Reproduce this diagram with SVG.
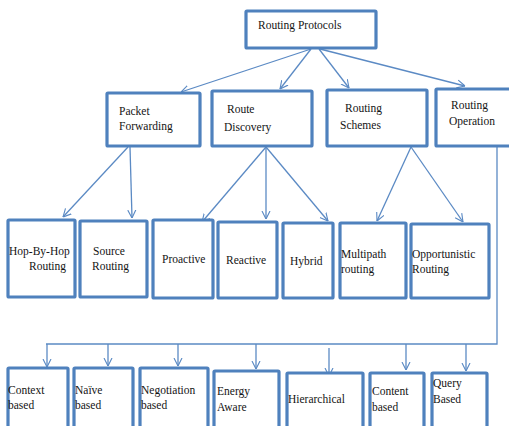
<svg xmlns="http://www.w3.org/2000/svg" width="509" height="426" viewBox="0 0 509 426">
<style>
.box{fill:#fff;stroke:#4f81bd;stroke-width:3.2}
.t{font-family:"Liberation Serif","Times New Roman",serif;font-size:11.5px;fill:#141414}
.c{fill:none;stroke:#5b8ac4;stroke-width:1.3}
</style>
<defs>
<marker id="ah" viewBox="0 0 10 10" refX="10" refY="5" markerWidth="8" markerHeight="11" markerUnits="userSpaceOnUse" orient="auto">
<path d="M0,0 L10,5 L0,10" fill="none" stroke="#5b8ac4" stroke-width="1.4"/>
</marker>
</defs>
<rect width="509" height="426" fill="#fff"/>
<g id="connectors">
<line class="c" x1="311" y1="49" x2="181" y2="92" marker-end="url(#ah)"/>
<line class="c" x1="311" y1="49" x2="280" y2="89" marker-end="url(#ah)"/>
<line class="c" x1="319" y1="49" x2="349" y2="88" marker-end="url(#ah)"/>
<line class="c" x1="320" y1="49" x2="465" y2="86" marker-end="url(#ah)"/>
<line class="c" x1="128" y1="147" x2="63" y2="217" marker-end="url(#ah)"/>
<line class="c" x1="130" y1="147" x2="132" y2="218" marker-end="url(#ah)"/>
<line class="c" x1="266" y1="147" x2="202" y2="222" marker-end="url(#ah)"/>
<line class="c" x1="266" y1="147" x2="266" y2="219" marker-end="url(#ah)"/>
<line class="c" x1="266" y1="147" x2="328" y2="221" marker-end="url(#ah)"/>
<line class="c" x1="411" y1="147" x2="377" y2="221" marker-end="url(#ah)"/>
<line class="c" x1="411" y1="147" x2="463" y2="222" marker-end="url(#ah)"/>
<polyline class="c" points="497,146 497,344 46,344"/>
<line class="c" x1="47" y1="344" x2="47" y2="367" marker-end="url(#ah)"/>
<line class="c" x1="108" y1="344" x2="108" y2="366" marker-end="url(#ah)"/>
<line class="c" x1="178" y1="344" x2="178" y2="366" marker-end="url(#ah)"/>
<line class="c" x1="256" y1="344" x2="256" y2="369" marker-end="url(#ah)"/>
<line class="c" x1="329" y1="348" x2="329" y2="376" marker-end="url(#ah)"/>
<line class="c" x1="406" y1="344" x2="406" y2="370" marker-end="url(#ah)"/>
<line class="c" x1="466" y1="344" x2="466" y2="371" marker-end="url(#ah)"/>
</g>
<g id="routing-protocols"><rect class="box" x="246" y="11" width="130" height="37" rx="1"/><text class="t" x="258" y="29">Routing Protocols</text></g>
<g id="packet-forwarding"><rect class="box" x="107" y="93" width="93" height="53" rx="1"/><text class="t" x="119" y="115">Packet</text><text class="t" x="119" y="130">Forwarding</text></g>
<g id="route-discovery"><rect class="box" x="212" y="91" width="100" height="55" rx="1"/><text class="t" x="227" y="113">Route</text><text class="t" x="224" y="131">Discovery</text></g>
<g id="routing-schemes"><rect class="box" x="327" y="90" width="100" height="56" rx="1"/><text class="t" x="345" y="112">Routing</text><text class="t" x="340" y="129">Schemes</text></g>
<g id="routing-operation"><rect class="box" x="436" y="89" width="80" height="57" rx="1"/><text class="t" x="451" y="109">Routing</text><text class="t" x="449" y="125">Operation</text></g>
<g id="hop-by-hop"><rect class="box" x="8" y="220" width="67" height="77" rx="1"/><text class="t" x="9" y="255">Hop-By-Hop</text><text class="t" x="29" y="270">Routing</text></g>
<g id="source-routing"><rect class="box" x="80" y="221" width="67" height="76" rx="1"/><text class="t" x="93" y="255">Source</text><text class="t" x="92" y="270">Routing</text></g>
<g id="proactive"><rect class="box" x="153" y="220" width="60" height="78" rx="1"/><text class="t" x="162" y="263">Proactive</text></g>
<g id="reactive"><rect class="box" x="218" y="222" width="59" height="76" rx="1"/><text class="t" x="226" y="264">Reactive</text></g>
<g id="hybrid"><rect class="box" x="283" y="223" width="50" height="75" rx="1"/><text class="t" x="290" y="265">Hybrid</text></g>
<g id="multipath"><rect class="box" x="340" y="223" width="66" height="75" rx="1"/><text class="t" x="341" y="258">Multipath</text><text class="t" x="341" y="273">routing</text></g>
<g id="opportunistic"><rect class="box" x="411" y="224" width="78" height="74" rx="1"/><text class="t" x="412" y="258">Opportunistic</text><text class="t" x="412" y="273">Routing</text></g>
<g id="context-based"><rect class="box" x="8" y="368" width="60" height="70" rx="1"/><text class="t" x="8" y="394">Context</text><text class="t" x="8" y="409">based</text></g>
<g id="naive-based"><rect class="box" x="74" y="368" width="59" height="70" rx="1"/><text class="t" x="75" y="394">Naïve</text><text class="t" x="75" y="409">based</text></g>
<g id="negotiation-based"><rect class="box" x="140" y="368" width="68" height="70" rx="1"/><text class="t" x="141" y="394">Negotiation</text><text class="t" x="141" y="409">based</text></g>
<g id="energy-aware"><rect class="box" x="214" y="371" width="65" height="70" rx="1"/><text class="t" x="217" y="395">Energy</text><text class="t" x="217" y="411">Aware</text></g>
<g id="hierarchical"><rect class="box" x="287" y="373" width="76" height="70" rx="1"/><text class="t" x="288" y="403">Hierarchical</text></g>
<g id="content-based"><rect class="box" x="370" y="373" width="54" height="70" rx="1"/><text class="t" x="372" y="395">Content</text><text class="t" x="372" y="411">based</text></g>
<g id="query-based"><rect class="box" x="432" y="373" width="55" height="70" rx="1"/><text class="t" x="433" y="387">Query</text><text class="t" x="433" y="403">Based</text></g>
</svg>
